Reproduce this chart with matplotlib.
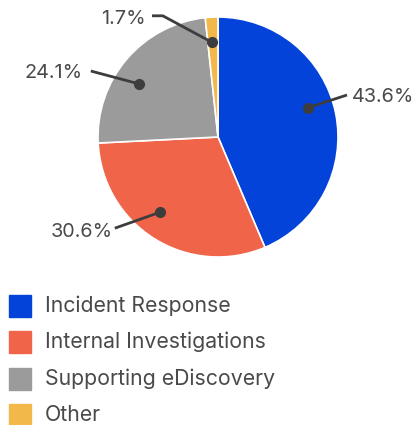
import numpy as np
import matplotlib
matplotlib.use("Agg")
from matplotlib import pyplot as plt
from matplotlib.patches import Rectangle

# share of work by engagement type
categories = ["Incident Response", "Internal Investigations",
              "Supporting eDiscovery", "Other"]
shares = [43.6, 30.6, 24.1, 1.7]
colors = ["#0443da", "#f0654a", "#9b9b9b", "#f2b84a"]

# label layout (pie radius = 1): dot angle nudge, leader elbow, leader end, text anchor
nudge = [6.5, -5.5, 6.5, 0.5]
elbows = [(1.075, 0.35), (-0.86, -0.76), (-1.06, 0.55), (-0.46, 1.01)]
ends = [(1.075, 0.35), (-0.86, -0.76), (-1.06, 0.55), (-0.55, 1.01)]
text_pos = [(1.115, 0.335), (-0.88, -0.79), (-1.13, 0.535), (-0.60, 0.985)]
text_ha = ["left", "right", "right", "right"]

W, H = 414, 425
cx, cy, R = 218, 137, 120  # pie centre and radius in pixels
txt = "#4a4a4a"
plt.rcParams['font.family'] = ['Inter', 'DejaVu Sans']

fig = plt.figure(figsize=(W / 100, H / 100), dpi=100)
ax = fig.add_axes([0, 0, 1, 1])

wedges, _ = ax.pie(shares, colors=colors, startangle=90, counterclock=False,
                   radius=1, center=(0, 0), frame=True,
                   wedgeprops=dict(edgecolor="white", linewidth=1.2))
ax.set_xlim(-cx / R, (W - cx) / R)
ax.set_ylim(-(H - cy) / R, cy / R)
ax.set_aspect("equal")
ax.axis("off")

for w, val, nd, el, en, tp, ha in zip(wedges, shares, nudge, elbows, ends,
                                      text_pos, text_ha):
    mid = np.deg2rad((w.theta1 + w.theta2) / 2 + nd)
    dx, dy = 0.79 * np.cos(mid), 0.79 * np.sin(mid)
    ax.plot([dx, el[0], en[0]], [dy, el[1], en[1]], color="#3d3d3d", lw=2,
            solid_capstyle="butt", zorder=5)
    ax.plot(dx, dy, "o", color="#3d3d3d", ms=7, zorder=6)
    ax.text(tp[0], tp[1], f"{val}%", ha=ha, va="center", fontsize=14.3,
            color=txt)

# legend rows under the pie
for i, (name, c) in enumerate(zip(categories, colors)):
    yc = 305.5 + i * 36.5
    fig.add_artist(Rectangle((9 / W, 1 - (yc + 11) / H), 22 / W, 22 / H,
                             transform=fig.transFigure, color=c))
    fig.text(45 / W, 1 - yc / H, name, ha="left", va="center",
             fontsize=15.3, color=txt)

fig.savefig("out.png", dpi=100)
